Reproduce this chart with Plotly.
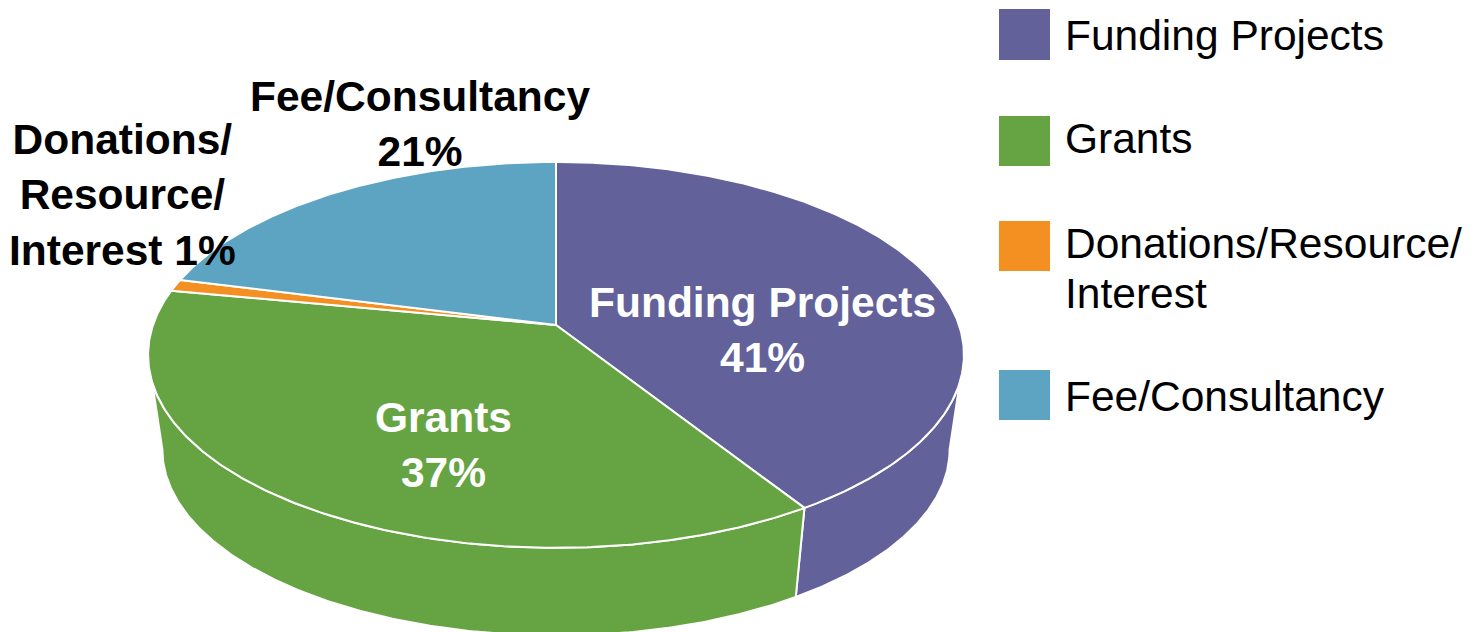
import numpy as np
import plotly.graph_objects as go

# ---- data ----
categories = ["Funding Projects", "Grants", "Donations/Resource/Interest", "Fee/Consultancy"]
values = [41, 37, 1, 21]
colors = ["#63619A", "#66A443", "#F48F22", "#5CA4C2"]
legend_lines = [["Funding Projects"], ["Grants"], ["Donations/Resource/", "Interest"], ["Fee/Consultancy"]]
label_names = ["Funding Projects", "Grants", "Donations/<br>Resource/<br>Interest", "Fee/Consultancy"]

# ---- geometry of the tilted pie (pixel space) ----
CX, CY = 556, 325      # apex of the top face
R, H = 403, 188.3      # horizontal / vertical radii
K = 0.155              # perspective factor
BOT_SCALE, BOT_DY = 0.965, 95.5

def proj(th_deg, bottom=False):
    t = np.radians(th_deg)
    f = 1.0 / (1.0 + K * np.cos(t))
    s = BOT_SCALE if bottom else 1.0
    dy = BOT_DY if bottom else 0.0
    x = CX + R * s * np.sin(t) * f
    y = CY + dy - H * s * np.cos(t) * f
    return x, y

total = float(sum(values))
cum = np.concatenate([[0], np.cumsum(values)]) / total * 360.0
tR = np.degrees(np.arccos(-K))          # right silhouette
tL = 360 - tR                           # left silhouette

fig = go.Figure()

# side faces
for i, c in enumerate(colors):
    a, b = max(cum[i], tR), min(cum[i + 1], tL)
    if b <= a:
        continue
    th = np.linspace(a, b, max(3, int((b - a) * 2)))
    xt, yt = proj(th)
    xb, yb = proj(th[::-1], bottom=True)
    xs = np.concatenate([xt, xb, xt[:1]])
    ys = np.concatenate([yt, yb, yt[:1]])
    fig.add_trace(go.Scatter(x=xs, y=ys, mode="lines", fill="toself", fillcolor=c,
                             line=dict(color="white", width=2), hoverinfo="skip",
                             showlegend=False))

# top faces
for i, c in enumerate(colors):
    a, b = cum[i], cum[i + 1]
    th = np.linspace(a, b, max(3, int((b - a) * 2)))
    xt, yt = proj(th)
    xs = np.concatenate([[CX], xt, [CX]])
    ys = np.concatenate([[CY], yt, [CY]])
    fig.add_trace(go.Scatter(x=xs, y=ys, mode="lines", fill="toself", fillcolor=c,
                             line=dict(color="white", width=2), hoverinfo="skip",
                             name=categories[i], showlegend=False))

# data labels
label_pos = [(762, 330, "white"), (443, 445, "white"), (122, 195, "black"), (420, 124, "black")]
pcts = [round(v / total * 100) for v in values]
for i, (lx, ly, col) in enumerate(label_pos):
    sep = " " if i == 2 else "<br>"
    fig.add_annotation(x=lx, y=ly, text=f"<b>{label_names[i]}{sep}{pcts[i]}%</b>",
                       showarrow=False, xanchor="center", yanchor="middle",
                       font=dict(family="Liberation Sans, Arial", size=42.5, color=col))

# legend (manual, large swatches)
leg_box = [(9, 60), (116, 166), (221, 271), (370, 420)]
leg_text_y = [[35], [138], [243, 293], [396]]
for i, (y0, y1) in enumerate(leg_box):
    fig.add_shape(type="rect", x0=999, x1=1050, y0=y0, y1=y1, xref="x", yref="y",
                  fillcolor=colors[i], line=dict(width=0))
    for line, ty in zip(legend_lines[i], leg_text_y[i]):
        fig.add_annotation(x=1063, y=ty, text=line, showarrow=False,
                           xanchor="left", yanchor="middle", align="left",
                           font=dict(family="Liberation Sans, Arial", size=42.5, color="black"))

fig.update_layout(
    width=1481, height=632,
    margin=dict(l=0, r=0, t=0, b=0),
    paper_bgcolor="white", plot_bgcolor="white",
    xaxis=dict(range=[0, 1481], visible=False, fixedrange=True),
    yaxis=dict(range=[632, 0], visible=False, fixedrange=True),
    showlegend=False,
)
fig.write_html("out.html", config={"displayModeBar": False},
               post_script="document.body.style.margin='0';document.body.style.overflow='hidden';")
